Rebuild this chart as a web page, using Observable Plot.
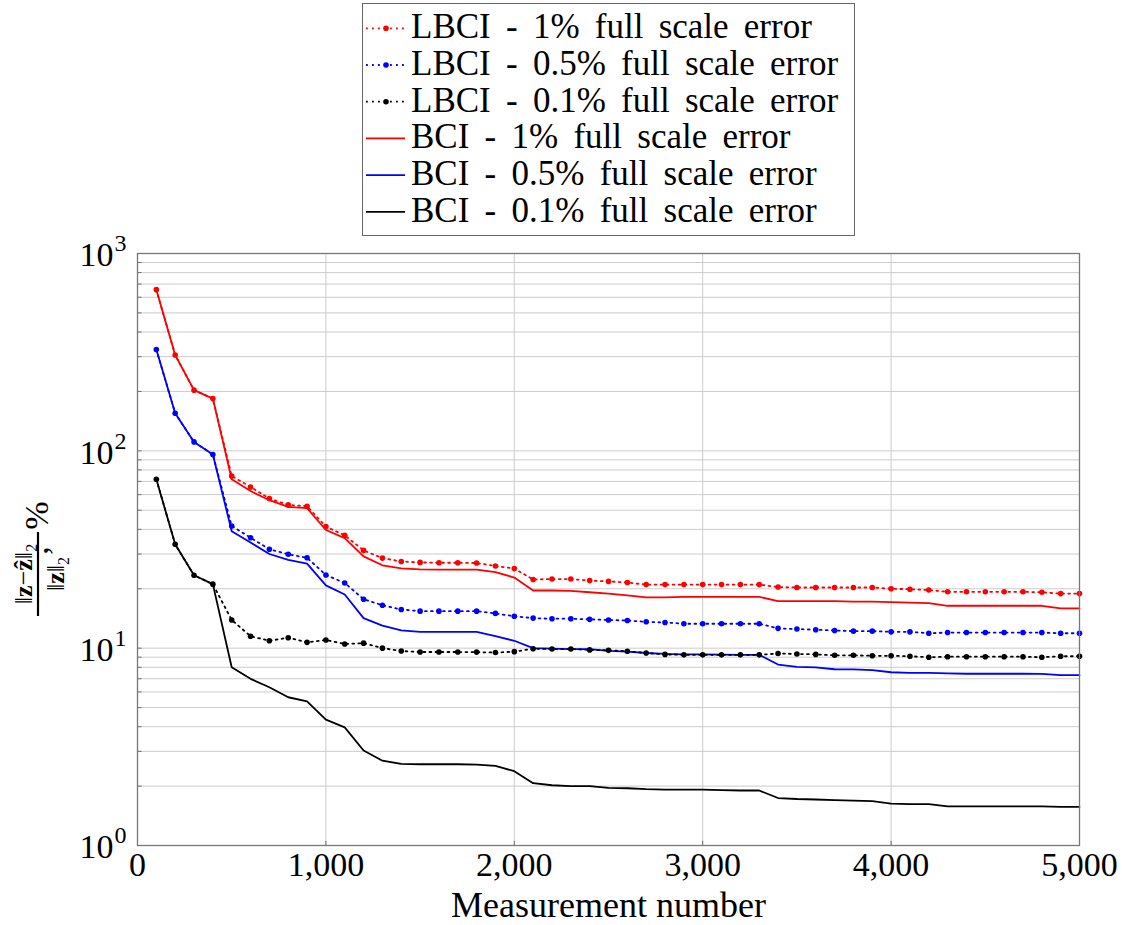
<!DOCTYPE html>
<html>
<head>
<meta charset="utf-8">
<script src="https://cdn.jsdelivr.net/npm/d3@7"></script>
<script src="https://cdn.jsdelivr.net/npm/@observablehq/plot@0.6"></script>
<style>
  html, body { margin: 0; padding: 0; background: #fff; }
  #legend, #chart { display: block; }
  svg { display: block; }
</style>
</head>
<body>
<div id="legend"></div>
<div id="chart"></div>
<script>
// ---- data ----
const measurement = [100,200,300,400,500,600,700,800,900,1000,1100,1200,1300,1400,1500,1600,1700,1800,1900,2000,
  2100,2200,2300,2400,2500,2600,2700,2800,2900,3000,3100,3200,3300,3400,3500,3600,3700,3800,3900,4000,
  4100,4200,4300,4400,4500,4600,4700,4800,4900,5000];

const lbci1 = [656,306,203,184,74.5,65.6,57.3,53.2,52.4,41.3,37.3,31.3,28.6,27.5,27.2,27.1,27.1,27.0,26.1,25.3,
  22.3,22.4,22.4,22.0,21.8,21.5,21.0,21.0,21.0,21.0,21.0,21.0,21.0,20.4,20.3,20.3,20.3,20.3,20.3,20.0,
  19.9,19.7,19.3,19.3,19.3,19.3,19.3,19.2,18.9,18.9];
const lbci05 = [326,155,111,95.8,41.6,36.3,31.7,29.9,28.7,23.5,21.4,17.7,16.5,15.7,15.4,15.4,15.4,15.4,15.0,14.5,
  14.2,14.1,14.1,14.0,13.9,13.8,13.6,13.5,13.3,13.3,13.3,13.3,13.3,12.6,12.5,12.4,12.3,12.2,12.2,12.1,
  12.1,11.9,12.0,12.0,12.0,12.0,12.0,12.0,11.9,11.9];
const lbci01 = [71.8,33.6,23.4,21.1,13.9,11.5,10.9,11.3,10.7,11.0,10.5,10.6,10.0,9.67,9.56,9.56,9.56,9.55,9.5,9.6,
  9.93,9.9,9.9,9.8,9.75,9.65,9.45,9.3,9.25,9.25,9.25,9.25,9.25,9.4,9.35,9.3,9.2,9.2,9.15,9.15,
  9.1,9.0,9.05,9.05,9.05,9.05,9.05,9.0,9.1,9.1];
const bci1 = [656,306,203,184,71.8,62.6,56.2,52.0,51.2,39.7,36.1,29.2,26.3,25.4,25.1,25.0,25.0,25.0,24.3,22.8,
  19.6,19.6,19.5,19.2,18.9,18.5,18.1,18.1,18.2,18.2,18.2,18.2,18.2,17.3,17.3,17.3,17.3,17.2,17.2,17.1,
  17.0,16.9,16.4,16.4,16.4,16.4,16.4,16.4,15.9,15.9];
const bci05 = [326,155,111,95.8,39.1,34.3,30.0,28.0,26.8,20.8,18.7,14.2,13.0,12.3,12.1,12.1,12.1,12.1,11.5,10.9,
  10.0,9.95,9.9,9.9,9.7,9.6,9.45,9.35,9.3,9.3,9.28,9.25,9.25,8.26,8.04,8.0,7.82,7.8,7.74,7.55,
  7.5,7.5,7.45,7.42,7.42,7.42,7.42,7.4,7.3,7.3];
const bci01 = [71.8,33.6,23.4,21.1,8.0,6.99,6.34,5.64,5.38,4.34,3.97,3.03,2.69,2.59,2.58,2.58,2.58,2.57,2.53,2.38,
  2.07,2.02,2.0,2.0,1.96,1.95,1.93,1.92,1.92,1.92,1.91,1.9,1.9,1.74,1.72,1.71,1.70,1.69,1.68,1.63,
  1.62,1.62,1.58,1.58,1.58,1.58,1.58,1.58,1.57,1.57];

const seriesNames = ["LBCI - 1% full scale error","LBCI - 0.5% full scale error","LBCI - 0.1% full scale error",
  "BCI - 1% full scale error","BCI - 0.5% full scale error","BCI - 0.1% full scale error"];
const seriesColors = ["#ff0000","#0000ff","#000000","#ff0000","#0000ff","#000000"];
const seriesValues = [lbci1, lbci05, lbci01, bci1, bci05, bci01];

const xTicks = [0,1000,2000,3000,4000,5000];
const xTickLabels = ["0","1,000","2,000","3,000","4,000","5,000"];
const yTicks = [1,10,100,1000];
const yTickExponents = ["0","1","2","3"];
const yMinor = [2,3,4,5,6,7,8,9,20,30,40,50,60,70,80,90,200,300,400,500,600,700,800,900];
const xLabel = "Measurement number";

// ---- build tables ----
const tables = seriesValues.map((vals, s) => measurement.map((m, i) => ({x: m, y: vals[i], s})));
const FONT = "'Liberation Serif', 'DejaVu Serif', serif";

const marks = [
  Plot.ruleY([...yMinor, ...yTicks], {stroke: "#cccccc", strokeWidth: 1}),
  Plot.ruleX(xTicks.slice(1, -1), {stroke: "#cccccc", strokeWidth: 1}),
  Plot.ruleY([...yMinor, ...yTicks], {x1: 0, x2: 24, stroke: "#707070", strokeWidth: 1}),
  Plot.ruleX(xTicks, {y1: 1, y2: 1.05, stroke: "#707070", strokeWidth: 1}),
];
// BCI solid lines
for (let s = 3; s < 6; s++) {
  marks.push(Plot.line(tables[s], {x: "x", y: "y", stroke: seriesColors[s], strokeWidth: 1.8}));
}
// LBCI dotted lines with markers
for (let s = 0; s < 3; s++) {
  marks.push(Plot.line(tables[s], {x: "x", y: "y", stroke: seriesColors[s], strokeWidth: 1.8,
    strokeDasharray: "1.8,4.2"}));
  marks.push(Plot.dot(tables[s], {x: "x", y: "y", fill: seriesColors[s], r: 2.8, stroke: "none"}));
}
marks.push(Plot.frame({stroke: "#777", strokeWidth: 1.3}));
// tick labels
marks.push(Plot.text(xTicks, {x: d => d, y: () => 1, text: (d, i) => xTickLabels[i], dy: 20,
  fontSize: 34, fill: "#000", lineAnchor: "middle"}));
marks.push(Plot.text(yTicks, {x: () => 0, y: d => d, text: () => "10", textAnchor: "end", dx: -24, dy: 2,
  fontSize: 34, fill: "#000"}));
marks.push(Plot.text(yTicks, {x: () => 0, y: d => d, text: (d, i) => yTickExponents[i], textAnchor: "start", dx: -23, dy: -10,
  fontSize: 24, fill: "#000"}));
marks.push(Plot.text([xLabel], {x: () => 2500, y: () => 1, text: d => d, dy: 60, fontSize: 36, fill: "#000"}));

const plot = Plot.plot({
  width: 1122,
  height: 685,
  marginLeft: 137,
  marginRight: 43,
  marginTop: 13,
  marginBottom: 80,
  style: {fontFamily: FONT, background: "#fff", overflow: "visible"},
  x: {type: "linear", domain: [0, 5000], axis: null},
  y: {type: "log", domain: [1, 1000], axis: null},
  marks
});
document.getElementById("chart").appendChild(plot);

// ---- y-axis label (rotated fraction) ----
const svg = d3.select(plot);
const g = svg.append("g").attr("transform", "translate(38,334) rotate(-90)")
  .attr("font-family", FONT).attr("fill", "#000");
const num = g.append("text").attr("x", 0).attr("y", -6).attr("text-anchor", "middle").attr("font-size", 26);
num.append("tspan").text("\u2016");
num.append("tspan").attr("font-weight", "bold").text("z");
num.append("tspan").text("\u2212");
num.append("tspan").attr("font-weight", "bold").text("\u1E91");
num.append("tspan").text("\u2016");
num.append("tspan").attr("font-size", 16).attr("dy", 5).text("2");
g.append("line").attr("x1", -42).attr("x2", 42).attr("y1", 0).attr("y2", 0)
  .attr("stroke", "#000").attr("stroke-width", 2.2);
const den = g.append("text").attr("x", 0).attr("y", 26).attr("text-anchor", "middle").attr("font-size", 26);
den.append("tspan").text("\u2016");
den.append("tspan").attr("font-weight", "bold").text("z");
den.append("tspan").text("\u2016");
den.append("tspan").attr("font-size", 16).attr("dy", 5).text("2");
g.append("text").attr("x", 46).attr("y", 10).attr("font-size", 34).attr("word-spacing", 8).text(", %");

// ---- legend (above the chart) ----
const lg = d3.select("#legend").append("svg").attr("width", 1122).attr("height", 240)
  .attr("font-family", FONT);
lg.append("rect").attr("x", 362.5).attr("y", 3.5).attr("width", 492).attr("height", 232)
  .attr("fill", "#fff").attr("stroke", "#666").attr("stroke-width", 1);
seriesNames.forEach((name, i) => {
  const base = 38.3 + 36.7 * i;
  const ly = base - 10;
  const isL = i < 3;
  lg.append("line").attr("x1", 366).attr("x2", 405).attr("y1", ly).attr("y2", ly)
    .attr("stroke", seriesColors[i]).attr("stroke-width", 1.8)
    .attr("stroke-dasharray", isL ? "1.8,4.2" : null);
  if (isL) lg.append("circle").attr("cx", 386).attr("cy", ly).attr("r", 2.8).attr("fill", seriesColors[i]);
  lg.append("text").attr("x", 411).attr("y", base).attr("font-size", 35).attr("word-spacing", 6.5)
    .attr("fill", "#000").text(name);
});
</script>
</body>
</html>
